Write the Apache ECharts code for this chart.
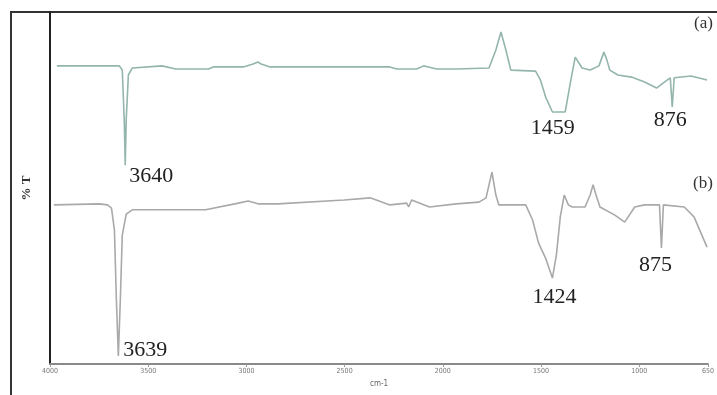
<!DOCTYPE html>
<html>
<head>
<meta charset="utf-8">
<script src="https://cdn.jsdelivr.net/npm/echarts@6/dist/echarts.min.js"></script>
<style>
  html, body { margin: 0; padding: 0; background: #fff; }
  #chart { width: 717px; height: 395px; }
</style>
</head>
<body>
<div id="chart"></div>
<script>
// spectrum (a): wavenumber (cm-1) and relative %T
const waveA = [3965, 3647, 3632, 3622, 3617, 3612, 3601, 3581, 3430, 3359, 3193, 3168, 3016, 2966, 2941, 2925, 2880,
    2270, 2234, 2133, 2098, 2073, 2032, 1932, 1765, 1730, 1704, 1679, 1654, 1528, 1503, 1477, 1442, 1377, 1351,
    1326, 1291, 1250, 1205, 1180, 1165, 1150, 1109, 1039, 973, 912, 872, 842, 832, 822, 736, 655];
const transA = [84.7, 84.7, 83.5, 69.3, 56.5, 69.3, 82.1, 84.1, 84.7, 83.8, 83.8, 84.4, 84.4, 85.2, 85.8, 85.2, 84.4,
    84.4, 83.8, 83.8, 84.7, 84.4, 83.8, 83.8, 84.1, 89.2, 94.3, 89.2, 83.5, 83.2, 80.7, 75.9, 71.6, 71.6, 79.8,
    87.2, 84.1, 83.5, 84.7, 88.6, 86.4, 83.5, 82.1, 81.5, 80.1, 78.4, 80.1, 81.3, 73.0, 81.3, 81.8, 80.7];

// spectrum (b)
const waveB = [3980, 3748, 3707, 3687, 3672, 3662, 3652, 3642, 3632, 3612, 3581, 3208, 3041, 2991, 2941, 2840, 2502,
    2370, 2270, 2184, 2174, 2159, 2068, 1932, 1816, 1780, 1750, 1730, 1715, 1578, 1543, 1513, 1477, 1442, 1422,
    1402, 1382, 1361, 1341, 1276, 1250, 1235, 1220, 1200, 1124, 1074, 1023, 973, 897, 887, 877, 771, 721, 655];
const transB = [45.2, 45.5, 45.2, 44.3, 38.1, 18.2, 2.3, 18.2, 36.6, 42.6, 43.8, 43.8, 45.7, 46.3, 45.5, 45.5, 46.6,
    47.2, 45.2, 45.7, 44.6, 46.6, 44.6, 45.5, 46.0, 47.2, 54.5, 48.0, 45.2, 45.2, 40.9, 34.4, 30.1, 24.4, 30.9,
    41.8, 48.0, 45.2, 44.6, 44.6, 48.0, 50.9, 48.0, 44.6, 42.3, 40.3, 44.6, 45.2, 45.2, 33.0, 45.2, 44.6, 41.8, 33.2];

// peak annotations
const peakTextA = ['3640', '1459', '876'];
const peakWaveA = [3617, 1410, 832];
const peakTransA = [56.5, 71.6, 73.0];
const peakTextB = ['3639', '1424', '875'];
const peakWaveB = [3652, 1442, 887];
const peakTransB = [2.3, 24.4, 33.0];

const tickValues = [4000, 3500, 3000, 2500, 2000, 1500, 1000, 650];

// label offsets (px) from the peak point
const offsetsA = [[26, 11], [-6, 16], [-2, 13]];
const offsetsB = [[27, -6], [2, 19], [-6, 17]];

const peakFont = {
    fontFamily: 'Liberation Serif',
    fontSize: 22,
    color: '#222'
};

function makePeaks(texts, waves, vals, offsets) {
    return texts.map((t, i) => ({
        name: t,
        coord: [waves[i], vals[i]],
        label: {offset: offsets[i]}
    }));
}

function pairs(xs, ys) {
    return xs.map((x, i) => [x, ys[i]]);
}

function peakMarks(texts, waves, vals, offsets) {
    return {
        symbol: 'circle',
        symbolSize: 1,
        itemStyle: {color: 'rgba(0,0,0,0)'},
        silent: true,
        label: {show: true, position: 'inside', formatter: p => p.name, ...peakFont},
        data: makePeaks(texts, waves, vals, offsets)
    };
}

const chart = echarts.init(document.getElementById('chart'), null, {renderer: 'canvas'});

const options = {
    animation: false,
    grid: {left: 50, right: 3, top: 12, bottom: 31},
    xAxis: {
        type: 'value',
        min: 650,
        max: 4000,
        inverse: true,
        name: 'cm-1',
        nameLocation: 'middle',
        nameGap: 16,
        nameTextStyle: {fontSize: 8, color: '#666', fontFamily: 'DejaVu Sans Condensed'},
        axisLine: {show: true, lineStyle: {color: '#8a8a8a', width: 2}},
        axisTick: {show: true, length: 3, customValues: tickValues, lineStyle: {color: '#999'}},
        axisLabel: {
            customValues: tickValues,
            formatter: v => String(v),
            fontSize: 7,
            color: '#777',
            margin: 4,
            fontFamily: 'DejaVu Sans Condensed',
            showMaxLabel: true,
            showMinLabel: true
        },
        splitLine: {show: false}
    },
    yAxis: {
        type: 'value',
        min: 0,
        max: 100,
        name: '% T',
        nameLocation: 'middle',
        nameGap: 17,
        nameRotate: 90,
        nameTextStyle: {fontSize: 13, fontWeight: 'bold', color: '#333', fontFamily: 'Liberation Serif'},
        axisLine: {show: true, lineStyle: {color: '#222', width: 2}},
        axisTick: {show: false},
        axisLabel: {show: false},
        splitLine: {show: false}
    },
    series: [
        {
            name: '(a)',
            type: 'line',
            data: pairs(waveA, transA),
            showSymbol: false,
            lineStyle: {color: '#93b5ad', width: 1.6},
            itemStyle: {color: '#93b5ad'},
            markPoint: peakMarks(peakTextA, peakWaveA, peakTransA, offsetsA)
        },
        {
            name: '(b)',
            type: 'line',
            data: pairs(waveB, transB),
            showSymbol: false,
            lineStyle: {color: '#a9a9a9', width: 1.6},
            itemStyle: {color: '#a9a9a9'},
            markPoint: peakMarks(peakTextB, peakWaveB, peakTransB, offsetsB)
        }
    ],
    graphic: [
        {
            type: 'polyline',
            shape: {points: [[11, 395], [11, 12], [717, 12]]},
            style: {stroke: '#333', lineWidth: 2, fill: null},
            silent: true
        },
        {
            type: 'text',
            left: 694,
            top: 15,
            style: {text: '(a)', fontFamily: 'Liberation Serif', fontSize: 17, fill: '#333'}
        },
        {
            type: 'text',
            left: 693,
            top: 175,
            style: {text: '(b)', fontFamily: 'Liberation Serif', fontSize: 17, fill: '#333'}
        }
    ]
};

chart.setOption(options);
</script>
</body>
</html>
